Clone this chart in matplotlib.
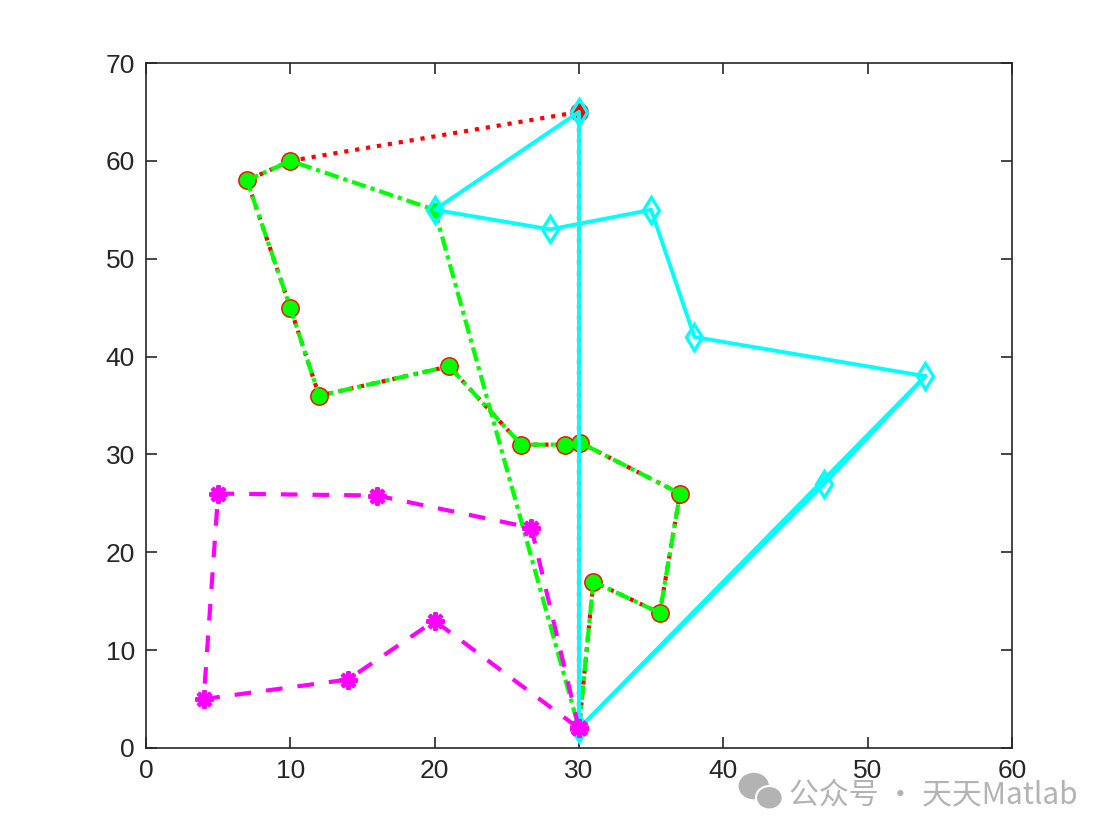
import matplotlib
matplotlib.use("Agg")
import matplotlib.pyplot as plt
from matplotlib.patches import Ellipse

# Route data
red_x = [30, 31, 35.6, 37, 30.1, 29, 26, 21, 12, 10, 7, 10, 30, 30]
red_y = [2, 17, 13.8, 26, 31.2, 31, 31, 39, 36, 45, 58, 60, 65, 2]

green_x = [30, 31, 35.6, 37, 30.1, 29, 26, 21, 12, 10, 7, 10, 20, 30]
green_y = [2, 17, 13.8, 26, 31.2, 31, 31, 39, 36, 45, 58, 60, 55, 2]

cyan_x = [30, 30, 20, 28, 35, 38, 54, 47, 30]
cyan_y = [2, 65, 55, 53, 55, 42, 38, 27, 2]
cyan_extra_x = [54, 30]
cyan_extra_y = [38, 2]

mag_x = [30, 26.7, 16, 5, 4, 14, 20, 30]
mag_y = [2, 22.5, 25.8, 26, 5, 7, 13, 2]

xticks = [0, 10, 20, 30, 40, 50, 60]
yticks = [0, 10, 20, 30, 40, 50, 60, 70]

plt.rcParams['font.family'] = ['Liberation Sans', 'DejaVu Sans']

fig = plt.figure(figsize=(11.15, 8.38), dpi=100)
ax = fig.add_axes([0.1309, 0.1074, 0.7767, 0.8174])

ax.plot(red_x, red_y, ':', color='red', lw=3, marker='o', ms=12.5,
        mfc='red', mec='red', zorder=2)
ax.plot(green_x, green_y, '-.', color='#00ff00', lw=3, marker='o', ms=10.5,
        mfc='#00ff00', mec='#00ff00', zorder=3, dashes=(3.5, 1.2, 1, 1.2))
ax.plot(cyan_extra_x, cyan_extra_y, '-', color='cyan', lw=2.8, zorder=4)
ax.plot(cyan_x, cyan_y, '-', color='cyan', lw=2.8, marker='d', ms=13,
        mfc='none', mec='cyan', mew=2.4, zorder=4)
ax.plot(mag_x, mag_y, '--', color='magenta', lw=3, marker=(8, 2, 0), ms=13,
        mfc='magenta', mec='magenta', mew=3, dashes=(4, 3.6), zorder=5)

ax.set_xlim(0, 60)
ax.set_ylim(0, 70)
ax.set_xticks(xticks)
ax.set_yticks(yticks)
ax.tick_params(direction='in', length=8, width=1.2, labelsize=19,
               colors='#262626', top=True, right=True, pad=8)
for s in ax.spines.values():
    s.set_color('#262626')
    s.set_linewidth(1.2)

# watermark
fig.text(0.708, 0.052, '公众号 · 天天Matlab', fontsize=21.5, color='#b3b3b3',
         family=['Noto Sans CJK SC', 'DejaVu Sans'], va='center', ha='left')
e1 = Ellipse((0.676, 0.062), 0.026, 0.03, transform=fig.transFigure,
             color='#b3b3b3', zorder=10)
e2 = Ellipse((0.690, 0.048), 0.024, 0.028, transform=fig.transFigure,
             color='#b3b3b3', ec='white', lw=1.5, zorder=11)
fig.patches.extend([e1, e2])

fig.savefig('out.png', dpi=100, facecolor='white')
